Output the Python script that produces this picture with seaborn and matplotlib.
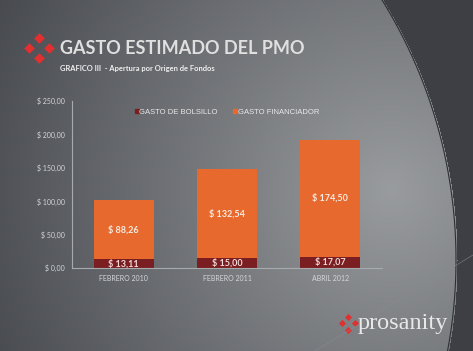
import numpy as np
import pandas as pd
import seaborn as sns
from matplotlib import pyplot as plt
from matplotlib.lines import Line2D

# data
periodos = ['FEBRERO 2010', 'FEBRERO 2011', 'ABRIL 2012']
gasto_bolsillo = [13.11, 15.00, 17.07]
gasto_financiador = [88.26, 132.54, 174.50]
y_ticks = [0, 50, 100, 150, 200, 250]

naranja = '#E8692D'
bordo = '#7A1E22'
txt_claro = '#D4D6D8'

df = pd.DataFrame({'periodo': periodos,
                   'bolsillo': gasto_bolsillo,
                   'financiador': gasto_financiador})
df['total'] = df['bolsillo'] + df['financiador']

sns.set_theme(style='white')
plt.rcParams['font.family'] = ['Lato', 'DejaVu Sans']

W, H = 473, 351
fig = plt.figure(figsize=(W / 100, H / 100), dpi=100)

#####----- slide background -----#####
bg = fig.add_axes([0, 0, 1, 1], zorder=0)
yy, xx = np.mgrid[0:H, 0:W]
d = np.clip(np.hypot(xx - 390, yy - 190) / 450, 0, 1)
light = np.array([0.60, 0.61, 0.62])
dark = np.array([0.27, 0.28, 0.30])
img = light[None, None, :] - (light - dark)[None, None, :] * d[..., None]
outside = np.hypot(xx + 38, yy - 260) > 494
img[outside] = [0.24, 0.25, 0.27]
bg.imshow(img, extent=[0, W, H, 0], aspect='auto')
t = np.linspace(-0.6, 0.3, 200)
bg.plot(-38 + 494 * np.cos(t), 260 + 494 * np.sin(t), color='#2c2f33', lw=0.8)
bg.plot([315, 473], [351, 255], color='#8a8d90', lw=0.6, alpha=0.6)
bg.set_xlim(0, W)
bg.set_ylim(H, 0)
bg.axis('off')

# logo crosses
for cx, cy, off, s in [(39, 48, 10, 30), (348, 323, 6.5, 13)]:
    bg.scatter([cx, cx - off, cx + off, cx], [cy - off, cy, cy, cy + off],
               marker='D', s=s, color='#E03030', linewidths=0)
bg.text(358, 323, 'prosanity', fontsize=17.5, family='Liberation Serif',
        color='#E8E8E8', va='center', ha='left')

fig.text(60 / W, 1 - 49 / H, 'GASTO ESTIMADO DEL PMO', fontsize=13,
         fontweight='bold', color='#E0E0E0', va='center', ha='left')
fig.text(60 / W, 1 - 68 / H, 'GRAFICO III  - Apertura por Origen de Fondos',
         fontsize=5.4, fontweight='bold', color='#F0F0F0', va='center', ha='left')

#####----- chart -----#####
ax = fig.add_axes([72 / W, 1 - 268 / H, 310 / W, 167 / H], zorder=1)
ax.patch.set_alpha(0)

sns.barplot(data=df, x='periodo', y='total', color=naranja, width=0.58,
            saturation=1, linewidth=0, ax=ax)
sns.barplot(data=df, x='periodo', y='bolsillo', color=bordo, width=0.58,
            saturation=1, linewidth=0, ax=ax)

for i, row in df.iterrows():
    ax.text(i, row['bolsillo'] + row['financiador'] / 2,
            '$ ' + f"{row['financiador']:.2f}".replace('.', ','),
            ha='center', va='center', fontsize=6.5, fontweight='bold', color='#F6ECE4')
    ax.text(i, row['bolsillo'] / 2,
            '$ ' + f"{row['bolsillo']:.2f}".replace('.', ','),
            ha='center', va='center', fontsize=6.5, fontweight='bold', color='#F2DADA')

ax.set_ylim(0, 250)
ax.set_xlim(-0.5, 2.5)
ax.set_yticks(y_ticks)
ax.set_yticklabels(['$ ' + f'{v:.2f}'.replace('.', ',') for v in y_ticks])
ax.set_xlabel('')
ax.set_ylabel('')
ax.tick_params(axis='both', length=0, labelsize=5, colors=txt_claro, pad=5)
for sp in ['top', 'right']:
    ax.spines[sp].set_visible(False)
for sp in ['left', 'bottom']:
    ax.spines[sp].set_color('#A8ABAE')
    ax.spines[sp].set_linewidth(0.8)

handles = [Line2D([], [], marker='s', ls='', color=bordo, markersize=3),
           Line2D([], [], marker='s', ls='', color=naranja, markersize=3)]
leg = ax.legend(handles, ['GASTO DE BOLSILLO', 'GASTO FINANCIADOR'], ncol=2,
                frameon=False, loc='center left', bbox_to_anchor=(0.18, 0.935),
                handlelength=0.5, handletextpad=0.1, columnspacing=2.0,
                prop={'family': 'Liberation Sans', 'size': 5.5})
for tx in leg.get_texts():
    tx.set_color('#E8E8E8')

plt.savefig('out.png', dpi=100)
